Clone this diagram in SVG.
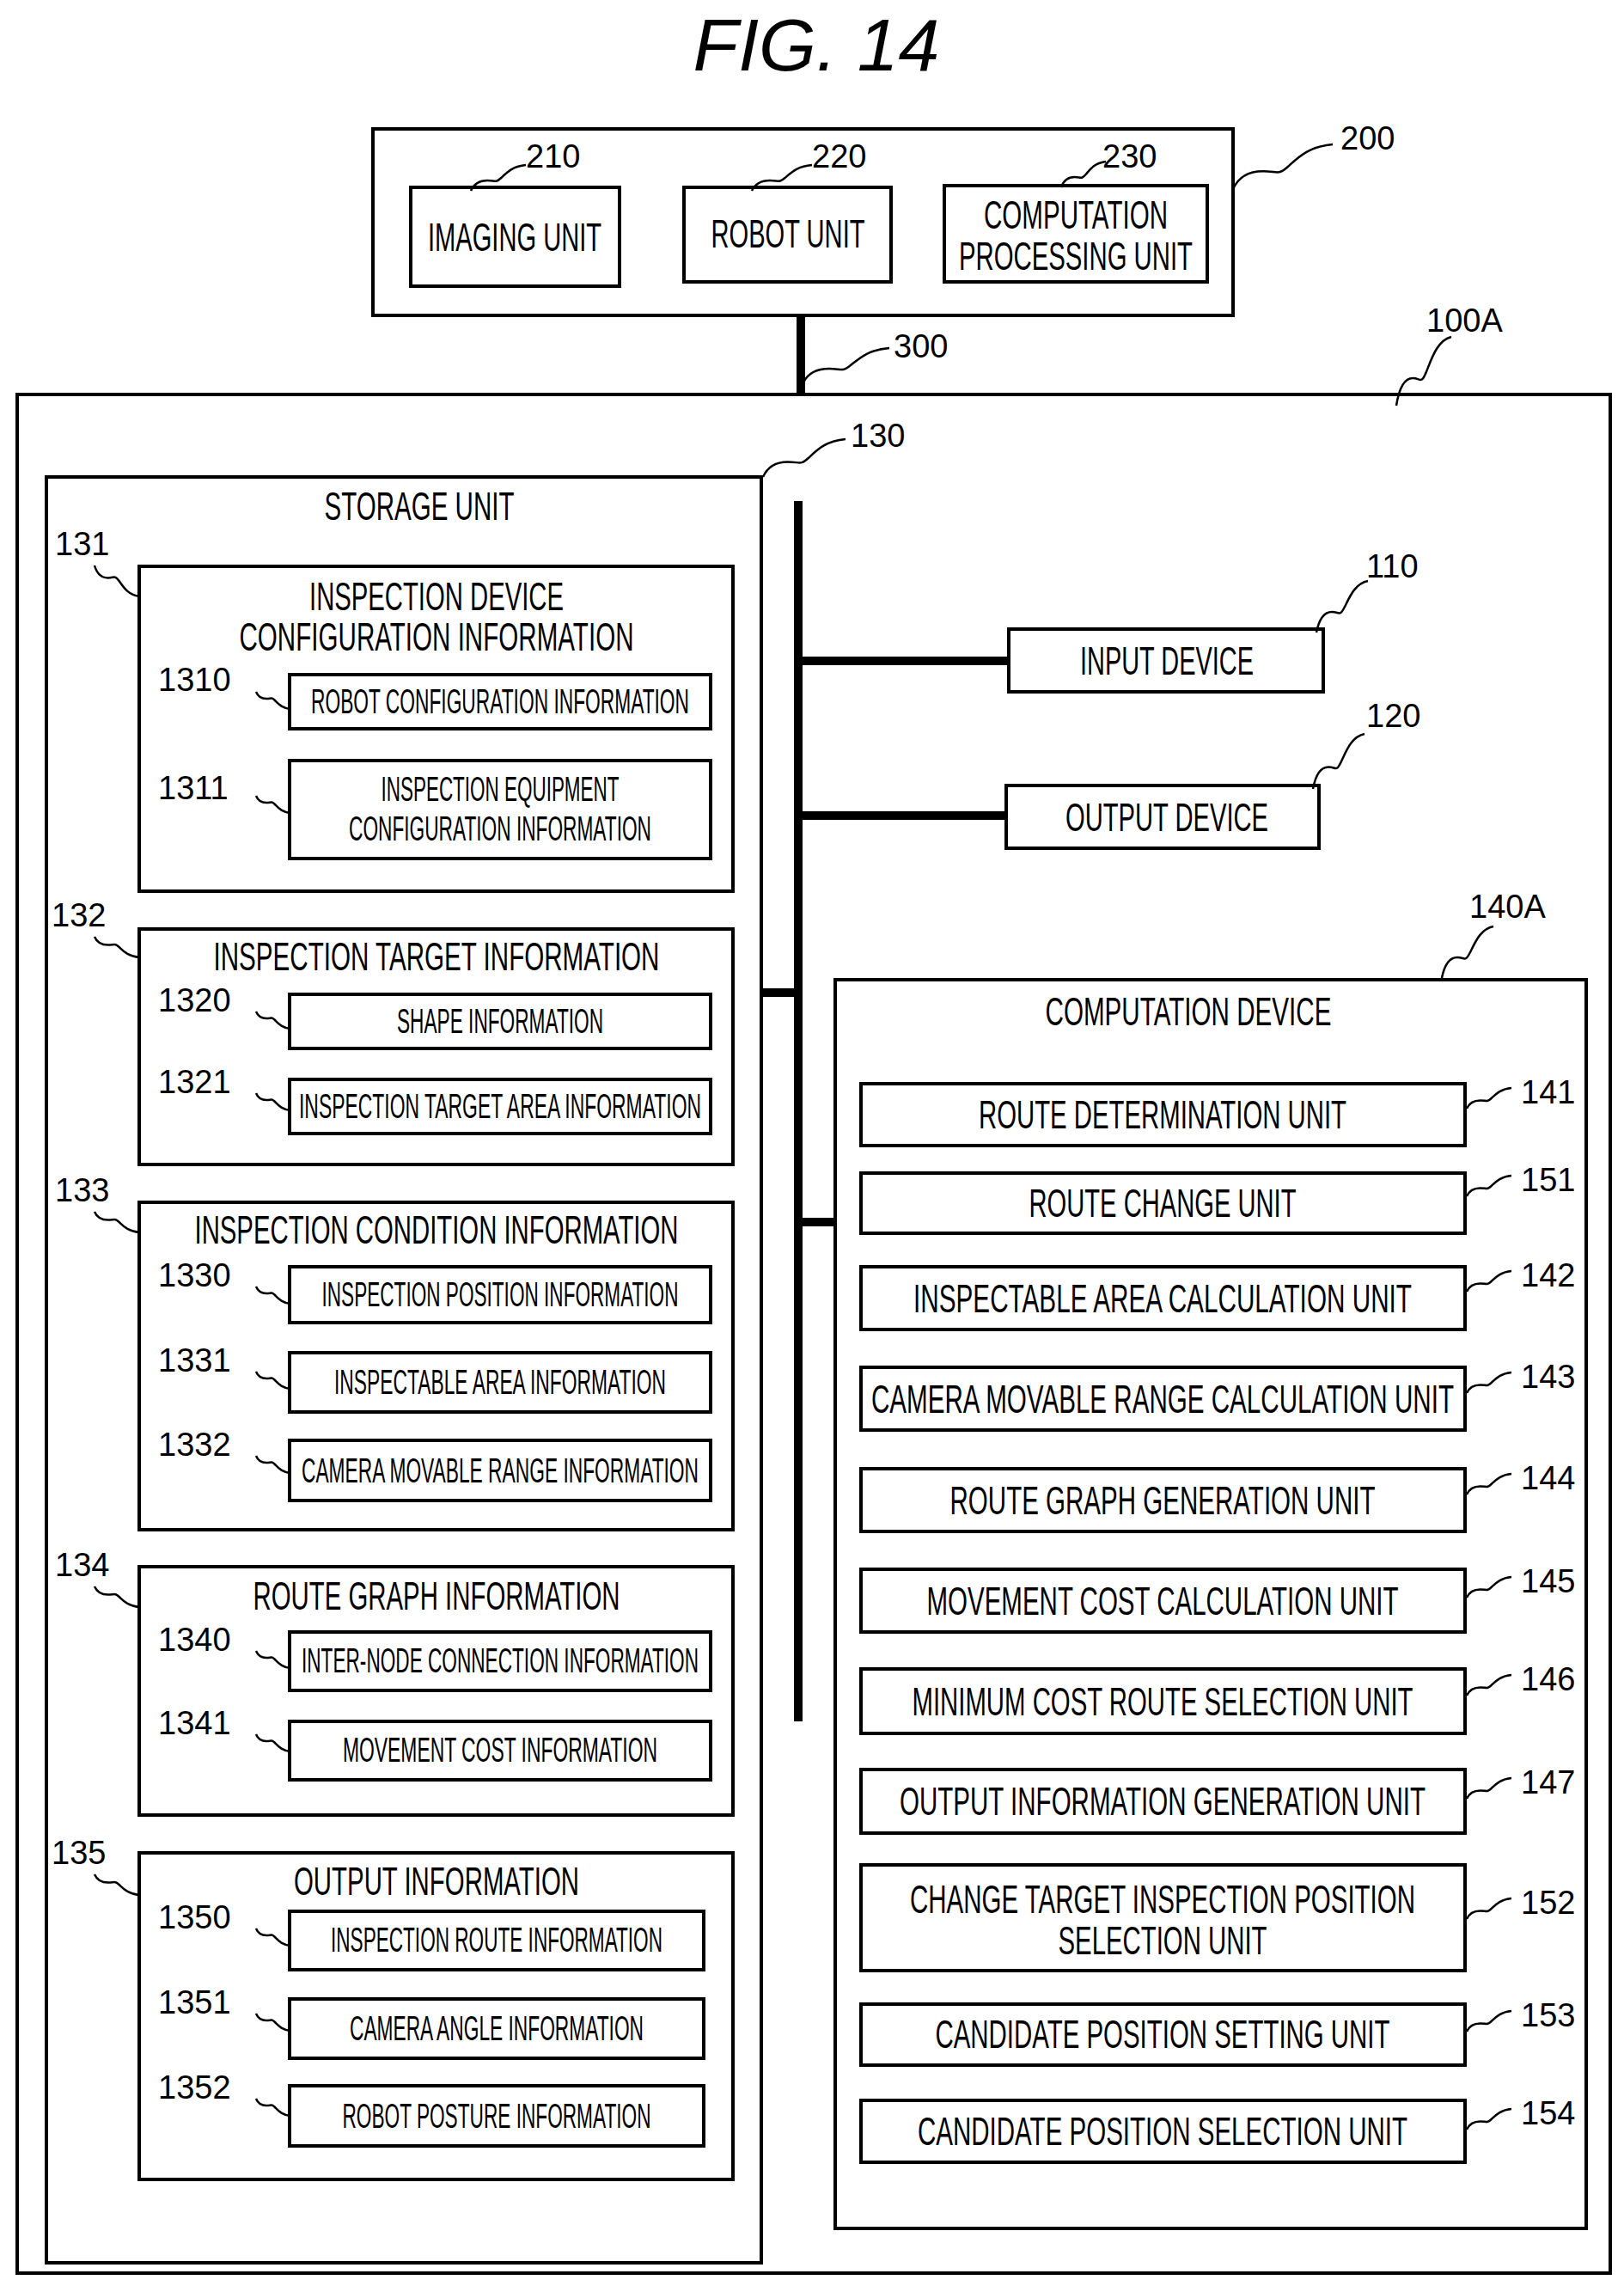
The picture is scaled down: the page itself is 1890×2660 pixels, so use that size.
<svg xmlns="http://www.w3.org/2000/svg" xmlns:xlink="http://www.w3.org/1999/xlink" width="1890" height="2660" viewBox="0 0 1890 2660">
<style>
rect{fill:#fff;stroke:#000;stroke-width:4}
text{font-family:"Liberation Sans",Arial,sans-serif;fill:#000}
.t{font-size:46px;text-anchor:middle}
.s{font-size:40px;text-anchor:middle}
.n{font-size:38px}
.w{fill:none;stroke:#000;stroke-width:2.5}
.bus{stroke:#000;stroke-width:10;fill:none}
</style>
<defs>
<path id="sq" d="M0,0 C2,-10 6,-16 12,-16 S18,-12 22,-20 S30,-38 40,-40" fill="none" stroke="#000" stroke-width="2.5" vector-effect="non-scaling-stroke"/>
</defs>
<rect x="0" y="0" width="1890" height="2660" style="stroke:none"/>
<text x="950" y="82" style="font-size:86px;font-style:italic;text-anchor:middle">FIG. 14</text>

<g id="n200">
<rect x="434" y="150" width="1001" height="217"/>
<text class="n" x="1560" y="174">200</text>
<use href="#sq" transform="translate(1435,220) scale(2.9,1.3)"/>
</g>
<g id="n210"><rect x="478" y="218" width="243" height="115"/>
<text class="t" x="599" y="292" textLength="202" lengthAdjust="spacingAndGlyphs">IMAGING UNIT</text>
<text class="n" x="612" y="195">210</text><use href="#sq" transform="translate(548,222) scale(1.6,0.75)"/></g>
<g id="n220"><rect x="796" y="218" width="241" height="110"/>
<text class="t" x="917" y="288" textLength="179" lengthAdjust="spacingAndGlyphs">ROBOT UNIT</text>
<text class="n" x="945" y="195">220</text><use href="#sq" transform="translate(875,222) scale(1.75,0.75)"/></g>
<g id="n230"><rect x="1099" y="216" width="306" height="112"/>
<text class="t" x="1252" y="266" textLength="214" lengthAdjust="spacingAndGlyphs">COMPUTATION</text>
<text class="t" x="1252" y="314" textLength="272" lengthAdjust="spacingAndGlyphs">PROCESSING UNIT</text>
<text class="n" x="1283" y="195">230</text><use href="#sq" transform="translate(1235,218) scale(1.3,0.75)"/></g>
<text class="n" x="1040" y="416">300</text>
<use href="#sq" transform="translate(935,445) scale(2.5,1)"/>

<g id="n100A">
<rect x="20" y="459" width="1854" height="2186"/>
<text class="n" x="1660" y="386">100A</text>
<use href="#sq" transform="translate(1625,472) scale(1.6,2)"/>
</g>

<g id="n130">
<rect x="54" y="555" width="832" height="2078"/>
<text class="t" x="488" y="605" textLength="221" lengthAdjust="spacingAndGlyphs">STORAGE UNIT</text>
<text class="n" x="990" y="520">130</text>
<use href="#sq" transform="translate(888,555) scale(2.4,1.1)"/>
</g>

<g id="n131"><rect x="162" y="659" width="691" height="378"/>
<text class="t" x="508" y="710" textLength="296" lengthAdjust="spacingAndGlyphs">INSPECTION DEVICE</text>
<text class="t" x="508" y="757" textLength="459" lengthAdjust="spacingAndGlyphs">CONFIGURATION INFORMATION</text>
<text class="n" x="64" y="646">131</text><use href="#sq" transform="translate(110,658) scale(1.3,-0.9)"/></g>
<g id="n1310"><rect x="337" y="785" width="490" height="63"/>
<text class="s" x="582" y="830" textLength="440" lengthAdjust="spacingAndGlyphs">ROBOT CONFIGURATION INFORMATION</text>
<text class="n" x="184" y="804">1310</text><use href="#sq" transform="translate(298,805) scale(1,-0.5)"/></g>
<g id="n1311"><rect x="337" y="885" width="490" height="114"/>
<text class="s" x="582" y="932" textLength="277" lengthAdjust="spacingAndGlyphs">INSPECTION EQUIPMENT</text>
<text class="s" x="582" y="978" textLength="352" lengthAdjust="spacingAndGlyphs">CONFIGURATION INFORMATION</text>
<text class="n" x="184" y="930">1311</text><use href="#sq" transform="translate(298,926) scale(1,-0.5)"/></g>

<g id="n132"><rect x="162" y="1081" width="691" height="274"/>
<text class="t" x="508" y="1129" textLength="519" lengthAdjust="spacingAndGlyphs">INSPECTION TARGET INFORMATION</text>
<text class="n" x="60" y="1078">132</text><use href="#sq" transform="translate(110,1090) scale(1.3,-0.6)"/></g>
<g id="n1320"><rect x="337" y="1157" width="490" height="63"/>
<text class="s" x="582" y="1202" textLength="240" lengthAdjust="spacingAndGlyphs">SHAPE INFORMATION</text>
<text class="n" x="184" y="1177">1320</text><use href="#sq" transform="translate(298,1177) scale(1,-0.5)"/></g>
<g id="n1321"><rect x="337" y="1256" width="490" height="63"/>
<text class="s" x="582" y="1301" textLength="468" lengthAdjust="spacingAndGlyphs">INSPECTION TARGET AREA INFORMATION</text>
<text class="n" x="184" y="1272">1321</text><use href="#sq" transform="translate(298,1272) scale(1,-0.5)"/></g>

<g id="n133"><rect x="162" y="1399" width="691" height="381"/>
<text class="t" x="508" y="1447" textLength="563" lengthAdjust="spacingAndGlyphs">INSPECTION CONDITION INFORMATION</text>
<text class="n" x="64" y="1398">133</text><use href="#sq" transform="translate(110,1410) scale(1.3,-0.6)"/></g>
<g id="n1330"><rect x="337" y="1474" width="490" height="65"/>
<text class="s" x="582" y="1520" textLength="415" lengthAdjust="spacingAndGlyphs">INSPECTION POSITION INFORMATION</text>
<text class="n" x="184" y="1497">1330</text><use href="#sq" transform="translate(298,1497) scale(1,-0.5)"/></g>
<g id="n1331"><rect x="337" y="1574" width="490" height="69"/>
<text class="s" x="582" y="1622" textLength="386" lengthAdjust="spacingAndGlyphs">INSPECTABLE AREA INFORMATION</text>
<text class="n" x="184" y="1596">1331</text><use href="#sq" transform="translate(298,1596) scale(1,-0.5)"/></g>
<g id="n1332"><rect x="337" y="1676" width="490" height="70"/>
<text class="s" x="582" y="1725" textLength="462" lengthAdjust="spacingAndGlyphs">CAMERA MOVABLE RANGE INFORMATION</text>
<text class="n" x="184" y="1694">1332</text><use href="#sq" transform="translate(298,1694) scale(1,-0.5)"/></g>

<g id="n134"><rect x="162" y="1823" width="691" height="289"/>
<text class="t" x="508" y="1873" textLength="427" lengthAdjust="spacingAndGlyphs">ROUTE GRAPH INFORMATION</text>
<text class="n" x="64" y="1834">134</text><use href="#sq" transform="translate(110,1846) scale(1.3,-0.6)"/></g>
<g id="n1340"><rect x="337" y="1899" width="490" height="68"/>
<text class="s" x="582" y="1946" textLength="462" lengthAdjust="spacingAndGlyphs">INTER-NODE CONNECTION INFORMATION</text>
<text class="n" x="184" y="1921">1340</text><use href="#sq" transform="translate(298,1921) scale(1,-0.5)"/></g>
<g id="n1341"><rect x="337" y="2003" width="490" height="68"/>
<text class="s" x="582" y="2050" textLength="366" lengthAdjust="spacingAndGlyphs">MOVEMENT COST INFORMATION</text>
<text class="n" x="184" y="2018">1341</text><use href="#sq" transform="translate(298,2018) scale(1,-0.5)"/></g>

<g id="n135"><rect x="162" y="2156" width="691" height="380"/>
<text class="t" x="508" y="2205" textLength="332" lengthAdjust="spacingAndGlyphs">OUTPUT INFORMATION</text>
<text class="n" x="60" y="2169">135</text><use href="#sq" transform="translate(110,2181) scale(1.3,-0.6)"/></g>
<g id="n1350"><rect x="337" y="2224" width="482" height="68"/>
<text class="s" x="578" y="2271" textLength="386" lengthAdjust="spacingAndGlyphs">INSPECTION ROUTE INFORMATION</text>
<text class="n" x="184" y="2244">1350</text><use href="#sq" transform="translate(298,2244) scale(1,-0.5)"/></g>
<g id="n1351"><rect x="337" y="2326" width="482" height="69"/>
<text class="s" x="578" y="2374" textLength="342" lengthAdjust="spacingAndGlyphs">CAMERA ANGLE INFORMATION</text>
<text class="n" x="184" y="2343">1351</text><use href="#sq" transform="translate(298,2343) scale(1,-0.5)"/></g>
<g id="n1352"><rect x="337" y="2427" width="482" height="70"/>
<text class="s" x="578" y="2476" textLength="359" lengthAdjust="spacingAndGlyphs">ROBOT POSTURE INFORMATION</text>
<text class="n" x="184" y="2442">1352</text><use href="#sq" transform="translate(298,2442) scale(1,-0.5)"/></g>

<g id="n110"><rect x="1174" y="732" width="366" height="73"/>
<text class="t" x="1358" y="785" textLength="202" lengthAdjust="spacingAndGlyphs">INPUT DEVICE</text>
<text class="n" x="1590" y="672">110</text><use href="#sq" transform="translate(1532,736) scale(1.5,1.5)"/></g>
<g id="n120"><rect x="1171" y="914" width="364" height="73"/>
<text class="t" x="1358" y="967" textLength="236" lengthAdjust="spacingAndGlyphs">OUTPUT DEVICE</text>
<text class="n" x="1590" y="846">120</text><use href="#sq" transform="translate(1528,918) scale(1.5,1.6)"/></g>

<g id="n140A"><rect x="972" y="1140" width="874" height="1453"/>
<text class="t" x="1383" y="1193" textLength="333" lengthAdjust="spacingAndGlyphs">COMPUTATION DEVICE</text>
<text class="n" x="1710" y="1068">140A</text><use href="#sq" transform="translate(1678,1138) scale(1.5,1.5)"/></g>

<g id="n141"><rect x="1002" y="1261" width="703" height="72"/>
<text class="t" x="1353" y="1313" textLength="428" lengthAdjust="spacingAndGlyphs">ROUTE DETERMINATION UNIT</text>
<text class="n" x="1770" y="1284">141</text><use href="#sq" transform="translate(1707,1290) scale(1.3,0.6)"/></g>
<g id="n151"><rect x="1002" y="1365" width="703" height="70"/>
<text class="t" x="1353" y="1416" textLength="311" lengthAdjust="spacingAndGlyphs">ROUTE CHANGE UNIT</text>
<text class="n" x="1770" y="1386">151</text><use href="#sq" transform="translate(1707,1392) scale(1.3,0.6)"/></g>
<g id="n142"><rect x="1002" y="1474" width="703" height="73"/>
<text class="t" x="1353" y="1527" textLength="580" lengthAdjust="spacingAndGlyphs">INSPECTABLE AREA CALCULATION UNIT</text>
<text class="n" x="1770" y="1497">142</text><use href="#sq" transform="translate(1707,1503) scale(1.3,0.6)"/></g>
<g id="n143"><rect x="1002" y="1591" width="703" height="73"/>
<text class="t" x="1353" y="1644" textLength="678" lengthAdjust="spacingAndGlyphs">CAMERA MOVABLE RANGE CALCULATION UNIT</text>
<text class="n" x="1770" y="1615">143</text><use href="#sq" transform="translate(1707,1621) scale(1.3,0.6)"/></g>
<g id="n144"><rect x="1002" y="1709" width="703" height="73"/>
<text class="t" x="1353" y="1762" textLength="495" lengthAdjust="spacingAndGlyphs">ROUTE GRAPH GENERATION UNIT</text>
<text class="n" x="1770" y="1733">144</text><use href="#sq" transform="translate(1707,1739) scale(1.3,0.6)"/></g>
<g id="n145"><rect x="1002" y="1826" width="703" height="73"/>
<text class="t" x="1353" y="1879" textLength="549" lengthAdjust="spacingAndGlyphs">MOVEMENT COST CALCULATION UNIT</text>
<text class="n" x="1770" y="1853">145</text><use href="#sq" transform="translate(1707,1859) scale(1.3,0.6)"/></g>
<g id="n146"><rect x="1002" y="1942" width="703" height="75"/>
<text class="t" x="1353" y="1996" textLength="583" lengthAdjust="spacingAndGlyphs">MINIMUM COST ROUTE SELECTION UNIT</text>
<text class="n" x="1770" y="1967">146</text><use href="#sq" transform="translate(1707,1973) scale(1.3,0.6)"/></g>
<g id="n147"><rect x="1002" y="2059" width="703" height="74"/>
<text class="t" x="1353" y="2112" textLength="612" lengthAdjust="spacingAndGlyphs">OUTPUT INFORMATION GENERATION UNIT</text>
<text class="n" x="1770" y="2087">147</text><use href="#sq" transform="translate(1707,2093) scale(1.3,0.6)"/></g>
<g id="n152"><rect x="1002" y="2170" width="703" height="123"/>
<text class="t" x="1353" y="2226" textLength="588" lengthAdjust="spacingAndGlyphs">CHANGE TARGET INSPECTION POSITION</text>
<text class="t" x="1353" y="2274" textLength="243" lengthAdjust="spacingAndGlyphs">SELECTION UNIT</text>
<text class="n" x="1770" y="2227">152</text><use href="#sq" transform="translate(1707,2233) scale(1.3,0.6)"/></g>
<g id="n153"><rect x="1002" y="2332" width="703" height="71"/>
<text class="t" x="1353" y="2383" textLength="529" lengthAdjust="spacingAndGlyphs">CANDIDATE POSITION SETTING UNIT</text>
<text class="n" x="1770" y="2358">153</text><use href="#sq" transform="translate(1707,2364) scale(1.3,0.6)"/></g>
<g id="n154"><rect x="1002" y="2444" width="703" height="72"/>
<text class="t" x="1353" y="2496" textLength="570" lengthAdjust="spacingAndGlyphs">CANDIDATE POSITION SELECTION UNIT</text>
<text class="n" x="1770" y="2472">154</text><use href="#sq" transform="translate(1707,2478) scale(1.3,0.6)"/></g>

<g id="connectors">
<line class="bus" x1="932" y1="367" x2="932" y2="459"/>
<line class="bus" x1="929" y1="583" x2="929" y2="2003"/>
<line class="bus" x1="929" y1="769" x2="1174" y2="769"/>
<line class="bus" x1="929" y1="949" x2="1171" y2="949"/>
<line class="bus" x1="886" y1="1155" x2="929" y2="1155"/>
<line class="bus" x1="929" y1="1422" x2="972" y2="1422"/>
</g>
</svg>
